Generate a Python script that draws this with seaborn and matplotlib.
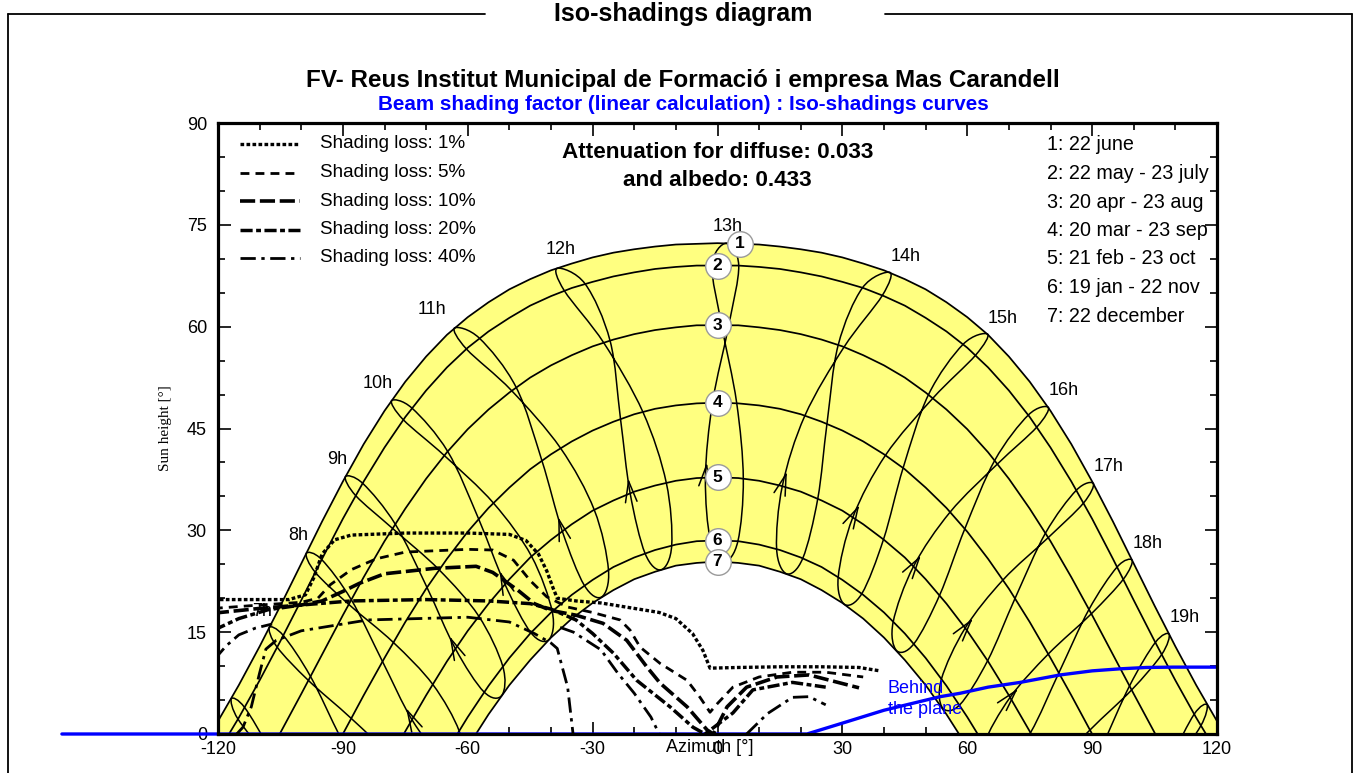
import numpy as np
import pandas as pd
import seaborn as sns
import matplotlib
matplotlib.use("Agg")
import matplotlib.pyplot as plt
from matplotlib.lines import Line2D
from matplotlib.path import Path
from matplotlib.patches import PathPatch

# day curves 1..7: sun height [deg] on an azimuth grid (clipped at the horizon by the axes)
AZ_GRID = list(range(-125, 130, 5))
SUN_H_1 = [-2.9, 1.9, 7.2, 12.9, 18.9, 25.1, 31.3, 37.2, 42.7, 47.6, 51.9, 55.6, 58.8, 61.4, 63.6, 65.5, 67.0,
           68.3, 69.3, 70.2, 70.9, 71.4, 71.8, 72.1, 72.2, 72.3, 72.2, 72.1, 71.8, 71.4, 70.9, 70.2, 69.3, 68.3,
           67.0, 65.5, 63.6, 61.4, 58.8, 55.6, 51.9, 47.6, 42.7, 37.2, 31.3, 25.1, 18.9, 12.9, 7.2, 1.9, -2.9]
SUN_H_2 = [-7.3, -2.7, 2.4, 7.9, 13.7, 19.7, 25.8, 31.7, 37.2, 42.2, 46.7, 50.6, 54.0, 56.9, 59.3, 61.3, 63.1,
           64.5, 65.7, 66.6, 67.4, 68.0, 68.5, 68.8, 69.0, 69.0, 69.0, 68.8, 68.5, 68.0, 67.4, 66.6, 65.7, 64.5,
           63.1, 61.3, 59.3, 56.9, 54.0, 50.6, 46.7, 42.2, 37.2, 31.7, 25.8, 19.7, 13.7, 7.9, 2.4, -2.7, -7.3]
SUN_H_3 = [-18.7, -14.7, -10.1, -5.1, 0.2, 5.9, 11.7, 17.5, 23.1, 28.4, 33.2, 37.6, 41.5, 44.9, 47.8, 50.3,
           52.5, 54.3, 55.8, 57.1, 58.1, 58.9, 59.5, 59.9, 60.2, 60.2, 60.2, 59.9, 59.5, 58.9, 58.1, 57.1, 55.8,
           54.3, 52.5, 50.3, 47.8, 44.9, 41.5, 37.6, 33.2, 28.4, 23.1, 17.5, 11.7, 5.9, 0.2, -5.1, -10.1, -14.7,
           -18.7]
SUN_H_4 = [-33.3, -29.8, -25.8, -21.4, -16.5, -11.2, -5.7, 0.0, 5.7, 11.2, 16.5, 21.4, 25.8, 29.8, 33.3, 36.3,
           39.0, 41.2, 43.1, 44.7, 46.0, 47.1, 47.9, 48.4, 48.7, 48.8, 48.7, 48.4, 47.9, 47.1, 46.0, 44.7, 43.1,
           41.2, 39.0, 36.3, 33.3, 29.8, 25.8, 21.4, 16.5, 11.2, 5.7, 0.0, -5.7, -11.2, -16.5, -21.4, -25.8,
           -29.8, -33.3]
SUN_H_5 = [-47.3, -44.4, -40.9, -37.0, -32.6, -27.8, -22.5, -16.9, -11.1, -5.3, 0.4, 5.7, 10.7, 15.2, 19.2,
           22.8, 26.0, 28.6, 30.9, 32.9, 34.4, 35.7, 36.6, 37.3, 37.7, 37.8, 37.7, 37.3, 36.6, 35.7, 34.4, 32.9,
           30.9, 28.6, 26.0, 22.8, 19.2, 15.2, 10.7, 5.7, 0.4, -5.3, -11.1, -16.9, -22.5, -27.8, -32.6, -37.0,
           -40.9, -44.4, -47.3]
SUN_H_6 = [-59.4, -57.0, -54.1, -50.8, -46.9, -42.4, -37.3, -31.8, -25.9, -19.9, -13.9, -8.0, -2.5, 2.5, 7.1,
           11.2, 14.8, 17.9, 20.5, 22.7, 24.6, 26.0, 27.1, 27.9, 28.4, 28.5, 28.4, 27.9, 27.1, 26.0, 24.6, 22.7,
           20.5, 17.9, 14.8, 11.2, 7.1, 2.5, -2.5, -8.0, -13.9, -19.9, -25.9, -31.8, -37.3, -42.4, -46.9, -50.8,
           -54.1, -57.0, -59.4]
SUN_H_7 = [-63.6, -61.4, -58.8, -55.6, -51.9, -47.6, -42.7, -37.2, -31.3, -25.1, -18.9, -12.9, -7.2, -1.9, 2.9,
           7.2, 10.9, 14.2, 17.0, 19.3, 21.2, 22.8, 23.9, 24.8, 25.2, 25.4, 25.2, 24.8, 23.9, 22.8, 21.2, 19.3,
           17.0, 14.2, 10.9, 7.2, 2.9, -1.9, -7.2, -12.9, -18.9, -25.1, -31.3, -37.2, -42.7, -47.6, -51.9, -55.6,
           -58.8, -61.4, -63.6]
DAY_CURVES = [SUN_H_1, SUN_H_2, SUN_H_3, SUN_H_4, SUN_H_5, SUN_H_6, SUN_H_7]

# hour loops (legal time), points at 22dec 19jan 21feb 20mar 20apr 22may 22jun 23jul 23aug 23sep 23oct 22nov 22dec
HOURS = [6, 7, 8, 9, 10, 11, 12, 13, 14, 15, 16, 17, 18, 19, 20]
HOUR_AZ = [
    [-79.9, -84.6, -93.0, -100.5, -107.5, -113.6, -116.8, -115.2, -108.1, -98.0, -88.1, -80.8, -79.9],
    [-71.0, -75.4, -83.2, -90.5, -97.8, -104.3, -107.7, -105.8, -98.3, -88.0, -78.4, -71.6, -71.0],
    [-61.8, -66.1, -73.4, -80.5, -88.0, -95.1, -98.8, -96.6, -88.6, -77.9, -68.4, -62.1, -61.8],
    [-51.8, -56.1, -63.0, -69.8, -77.4, -85.2, -89.4, -86.9, -78.1, -66.9, -57.4, -51.6, -51.8],
    [-40.5, -44.8, -51.1, -57.4, -64.8, -73.4, -78.3, -75.5, -65.6, -53.8, -44.7, -39.7, -40.5],
    [-27.8, -32.0, -37.3, -42.2, -48.4, -57.2, -63.2, -60.3, -49.5, -37.7, -29.6, -26.2, -27.8],
    [-13.5, -17.4, -21.0, -23.3, -25.8, -31.8, -38.5, -36.8, -27.3, -17.9, -12.3, -11.0, -13.5],
    [1.6, -1.7, -2.9, -1.2, 2.7, 5.1, 2.1, -1.3, 1.0, 4.6, 6.2, 4.9, 1.6],
    [16.6, 14.2, 15.6, 21.0, 30.4, 39.6, 41.4, 34.8, 29.0, 26.3, 24.1, 20.5, 16.6],
    [30.5, 29.0, 32.5, 40.4, 51.8, 62.0, 64.9, 59.0, 50.7, 44.6, 39.9, 34.7, 30.5],
    [43.0, 42.2, 47.1, 55.9, 67.3, 76.7, 79.5, 74.7, 66.6, 59.4, 53.4, 47.2, 43.0],
    [54.0, 53.8, 59.5, 68.6, 79.4, 87.9, 90.3, 86.2, 78.8, 71.5, 64.9, 58.2, 54.0],
    [63.8, 64.0, 70.3, 79.5, 89.8, 97.5, 99.6, 96.0, 89.2, 82.0, 75.2, 68.0, 63.8],
    [72.8, 73.5, 80.2, 89.5, 99.5, 106.7, 108.5, 105.2, 99.0, 92.0, 84.9, 77.2, 72.8],
    [81.8, 82.6, 89.9, 99.5, 109.4, 116.1, 117.6, 114.5, 108.8, 102.1, 94.8, 86.5, 81.8],
]
HOUR_H = [
    [-25.0, -25.5, -20.2, -11.8, -2.5, 3.9, 5.2, 2.2, -3.1, -9.0, -14.7, -20.8, -25.0],
    [-14.1, -14.4, -8.9, -0.6, 8.5, 14.5, 15.7, 12.8, 7.9, 2.3, -3.5, -9.9, -14.1],
    [-3.7, -3.7, 2.1, 10.7, 19.8, 25.7, 26.6, 23.8, 19.1, 13.5, 7.3, 0.5, -3.7],
    [5.7, 6.2, 12.6, 21.6, 30.9, 36.9, 37.9, 35.1, 30.3, 24.2, 17.4, 10.0, 5.7],
    [13.9, 14.9, 22.1, 31.7, 41.6, 48.0, 49.1, 46.3, 41.0, 34.0, 26.2, 18.0, 13.9],
    [20.2, 21.9, 29.9, 40.3, 51.1, 58.3, 59.8, 56.7, 50.6, 42.1, 33.0, 24.2, 20.2],
    [24.2, 26.6, 35.5, 46.4, 57.9, 66.3, 68.6, 65.3, 57.6, 47.4, 37.0, 27.8, 24.2],
    [25.4, 28.5, 37.8, 48.8, 60.2, 69.0, 72.3, 69.0, 60.2, 48.8, 37.6, 28.4, 25.4],
    [23.6, 27.3, 36.6, 46.9, 57.0, 64.6, 68.0, 65.7, 57.3, 45.7, 34.7, 25.9, 23.6],
    [19.1, 23.1, 31.9, 41.1, 49.5, 55.8, 58.9, 57.4, 50.0, 39.2, 28.7, 20.7, 19.1],
    [12.3, 16.5, 24.7, 32.7, 39.8, 45.2, 48.1, 47.0, 40.3, 30.2, 20.5, 13.3, 12.3],
    [3.9, 8.1, 15.6, 22.7, 28.9, 34.0, 36.9, 35.9, 29.6, 20.0, 10.8, 4.3, 3.9],
    [-5.8, -1.5, 5.4, 11.8, 17.7, 22.8, 25.6, 24.6, 18.3, 9.0, 0.2, -5.8, -5.8],
    [-16.3, -12.0, -5.5, 0.6, 6.5, 11.7, 14.7, 13.5, 7.1, -2.3, -11.0, -16.6, -16.3],
    [-27.3, -23.1, -16.7, -10.7, -4.5, 1.2, 4.3, 2.9, -3.9, -13.5, -22.2, -27.7, -27.3],
]

# iso-shading curves (azimuth, height)
LOSS_1_AZ = [-121, -103, -99, -97, -95, -92, -88, -75, -60, -50, -46, -43, -41, -39.5, -38.5, -34, -28, -22,
             -14, -10, -6, -3.5, -1.8, 5, 15, 25, 34, 39]
LOSS_1_H = [19.8, 19.8, 20.5, 23.0, 26.5, 28.6, 29.3, 29.6, 29.6, 29.4, 28.5, 26.5, 24.0, 21.5, 20.0, 19.6,
            19.3, 18.7, 17.9, 17.0, 14.8, 12.3, 9.7, 9.8, 9.9, 9.9, 9.8, 9.3]
LOSS_5_AZ = [-121, -110, -100, -96, -93, -88, -82, -75, -60, -54, -49, -45, -41, -36, -30, -23.4, -21, -18.6,
             -13.8, -7.3, -4.2, -1.8, 0, 3.7, 10, 18, 26, 35]
LOSS_5_H = [18.5, 19.0, 19.4, 20.0, 22.0, 24.2, 25.8, 26.8, 27.2, 27.1, 25.6, 22.6, 20.2, 18.7, 17.9, 16.8,
            15.3, 12.8, 10.4, 7.9, 5.4, 3.2, 4.5, 6.9, 8.4, 9.1, 9.1, 8.4]
LOSS_10_AZ = [-121, -110, -100, -95, -90, -86, -80, -68, -58, -54, -48, -44, -40, -34, -27.5, -21.8, -17,
              -13.8, -7.3, -2.5, -1, 2.3, 7, 14.3, 22, 34]
LOSS_10_H = [17.8, 18.5, 19.0, 19.6, 21.0, 22.2, 23.6, 24.4, 24.7, 23.8, 21.2, 19.2, 18.2, 17.5, 16.3, 13.8,
             9.9, 7.5, 4.0, 0.6, 0, 4.0, 6.9, 8.4, 8.7, 6.8]
LOSS_20_AZ = [-121, -115, -108, -100, -88, -70, -55, -45, -40, -34, -30, -25, -19.4, -11.4, -5.9, -3, 3.7, 8.5,
              18, 26]
LOSS_20_H = [15.3, 17.0, 18.3, 19.0, 19.6, 19.8, 19.6, 19.2, 18.4, 16.8, 14.8, 11.9, 7.9, 4.0, 1.0, 0, 3.1, 6.5,
             7.6, 6.9]
LOSS_40_AZ = [[-115.5, -114, -112, -110, -108.5, -106, -100, -84, -60, -50, -44, -40, -38.5, -36, -34.7],
              [-121, -118, -115, -111, -107],
              [-37.8, -34.6, -28, -24, -20, -16, -14],
              [7, 12, 18, 22, 26]]
LOSS_40_H = [[0, 1, 4, 9, 12.5, 13.8, 15.2, 16.8, 17.2, 16.5, 14.8, 13.4, 12.6, 6.9, 0],
             [10.9, 13, 14.6, 15.6, 16.2],
             [15.7, 15.0, 12.4, 9.0, 6.0, 2.5, 0],
             [0, 3, 5.4, 5.5, 4.3]]

BEHIND_AZ = [-157.5, 21.5, 30, 40, 53.5, 58.3, 65, 72.7, 82.3, 90, 96.7, 103, 109.5, 120]
BEHIND_H = [0, 0, 1.6, 3.5, 5.5, 6.0, 6.9, 7.6, 8.7, 9.3, 9.6, 9.8, 9.85, 9.85]

LOSS_LABELS = ["Shading loss: 1%", "Shading loss: 5%", "Shading loss: 10%",
               "Shading loss: 20%", "Shading loss: 40%"]
DATE_LABELS = ["1: 22 june", "2: 22 may - 23 july", "3: 20 apr - 23 aug",
               "4: 20 mar - 23 sep", "5: 21 feb - 23 oct", "6: 19 jan - 22 nov",
               "7: 22 december"]
HOUR_LABELS = ["8h", "9h", "10h", "11h", "12h", "13h", "14h", "15h", "16h", "17h", "18h", "19h"]
HOUR_LABEL_POS = [(-100.8, 29.3), (-91.4, 40.4), (-81.6, 51.6), (-68.6, 62.5), (-37.6, 71.3),
                  (2.5, 74.7), (45.3, 70.3), (68.6, 61.2), (83.2, 50.6), (94.0, 39.4),
                  (103.4, 28.1), (112.3, 17.1)]

STYLES = {
    "1%": dict(lw=2.4, ls=(0, (1.1, 0.7))),
    "5%": dict(lw=2.0, ls=(0, (3.2, 2.2))),
    "10%": dict(lw=2.6, ls=(0, (4.2, 1.3))),
    "20%": dict(lw=2.5, ls=(0, (3.5, 1.0, 1.4, 1.0))),
    "40%": dict(lw=2.0, ls=(0, (5.5, 2.0, 1.2, 2.0))),
}
YELLOW = "#ffff80"
BLUE = "#0000ff"


def smooth_loop(xs, ys):
    # closed Catmull-Rom curve through the loop points, as cubic Bezier segments
    p = np.column_stack([xs, ys])[:-1]
    n = len(p)
    verts, codes = [p[0]], [Path.MOVETO]
    for i in range(n):
        p0, p1, p2, p3 = p[i - 1], p[i], p[(i + 1) % n], p[(i + 2) % n]
        verts += [p1 + (p2 - p0) / 6, p2 - (p3 - p1) / 6, p2]
        codes += [Path.CURVE4] * 3
    return Path(verts, codes)


sns.set_theme(style="white", rc={"axes.edgecolor": "black", "text.color": "black",
                                 "xtick.color": "black", "ytick.color": "black",
                                 "axes.labelcolor": "black"})
plt.rcParams["font.family"] = ["Liberation Sans", "DejaVu Sans"]
plt.rcParams["axes.unicode_minus"] = False

W, HP = 1360, 773
fig = plt.figure(figsize=(13.6, 7.73), dpi=100)
fig.patch.set_facecolor("white")
ax = fig.add_axes([218 / W, 1 - 734 / HP, (1217 - 218) / W, (734 - 123) / HP])
ax.set_xlim(-120, 120)
ax.set_ylim(0, 90)

# page frame and titles
for xs, ys in [([8, 485], [14, 14]), ([885, 1352], [14, 14]), ([8, 8], [14, 780]), ([1352, 1352], [14, 780])]:
    fig.add_artist(Line2D([x / W for x in xs], [1 - y / HP for y in ys], color="black", lw=1.3))
fig.text(683 / W, 1 - 14 / HP, "Iso-shadings diagram", ha="center", va="center", fontsize=18, fontweight="bold")
fig.text(683 / W, 1 - 80 / HP, "FV- Reus Institut Municipal de Formació i empresa Mas Carandell",
         ha="center", va="center", fontsize=17.5, fontweight="bold")
fig.text(683 / W, 1 - 105 / HP, "Beam shading factor (linear calculation) : Iso-shadings curves",
         ha="center", va="center", fontsize=14.9, fontweight="bold", color=BLUE)

# yellow band between 22 june and 22 december
ax.fill_between(AZ_GRID, SUN_H_7, SUN_H_1, color=YELLOW, lw=0, zorder=1)
days = pd.DataFrame({"az": AZ_GRID * len(DAY_CURVES), "h": sum(DAY_CURVES, []),
                     "curve": np.repeat(np.arange(1, len(DAY_CURVES) + 1), len(AZ_GRID))})
sns.lineplot(data=days, x="az", y="h", units="curve", estimator=None, color="black",
             lw=1.25, ax=ax, legend=False, zorder=3)

# hour loops with direction arrows
for a_row, h_row in zip(HOUR_AZ, HOUR_H):
    ax.add_patch(PathPatch(smooth_loop(a_row, h_row), fill=False, ec="black", lw=1.1, zorder=3))
    feb = np.array([a_row[2], h_row[2]])
    mar = np.array([a_row[3], h_row[3]])
    tip = feb + 0.2 * (mar - feb)
    if 0.5 < tip[1] and -119 < tip[0] < 119:
        ax.annotate("", xy=tip, xytext=tip - 0.06 * (mar - feb),
                    arrowprops=dict(arrowstyle="->,head_length=0.8,head_width=0.22",
                                    lw=1.1, color="black", mutation_scale=19, shrinkA=0, shrinkB=0),
                    zorder=4)

# hour labels (7h sits under the shading curves)
for lab, (xa, ya) in zip(HOUR_LABELS, HOUR_LABEL_POS):
    ax.text(xa, ya, lab, ha="center", va="center", fontsize=13, zorder=6)
ax.text(-109.4, 18.1, "7h", ha="center", va="center", fontsize=13, zorder=4)

# iso-shading curves
for key, a, h in [("1%", LOSS_1_AZ, LOSS_1_H), ("5%", LOSS_5_AZ, LOSS_5_H),
                  ("10%", LOSS_10_AZ, LOSS_10_H), ("20%", LOSS_20_AZ, LOSS_20_H)]:
    sns.lineplot(x=a, y=h, sort=False, estimator=None, color="black", ax=ax, zorder=5, **STYLES[key])
loss40 = pd.DataFrame({"az": sum(LOSS_40_AZ, []), "h": sum(LOSS_40_H, []),
                       "part": np.repeat(np.arange(len(LOSS_40_AZ)), [len(p) for p in LOSS_40_AZ])})
sns.lineplot(data=loss40, x="az", y="h", units="part", estimator=None, sort=False, color="black",
             ax=ax, legend=False, zorder=5, **STYLES["40%"])

# behind the plane
ax.plot(BEHIND_AZ, BEHIND_H, color=BLUE, lw=2.4, zorder=4.5, clip_on=False)
ax.text(40.9, 5.1, "Behind\nthe plane", color=BLUE, fontsize=13, ha="left", va="center",
        linespacing=1.3, zorder=6)

# date markers on the meridian
for k, curve in enumerate(DAY_CURVES):
    idx = AZ_GRID.index(5) if k == 0 else AZ_GRID.index(0)
    xa = AZ_GRID[idx] + (0.4 if k == 0 else 0)
    ax.scatter([xa], [curve[idx]], s=340, color="white", edgecolor="#9a9a9a", lw=1.0, zorder=7)
    ax.text(xa, curve[idx], str(k + 1), ha="center", va="center", fontsize=12.5,
            fontweight="bold", zorder=8)

# legends
for i, (lab, key) in enumerate(zip(LOSS_LABELS, STYLES)):
    yy = 1 - (144 + 28.5 * i - 123) / 611
    ax.add_line(Line2D([0.022, 0.082], [yy, yy], transform=ax.transAxes, color="black", **STYLES[key]))
    ax.text(0.102, yy, lab, transform=ax.transAxes, ha="left", va="center", fontsize=13.6)
for i, lab in enumerate(DATE_LABELS):
    yy = 1 - (145 + 28.5 * i - 123) / 611
    ax.text(0.8298, yy, lab, transform=ax.transAxes, ha="left", va="center", fontsize=14.2)
ax.text(0.5, 1 - (152 - 123) / 611, "Attenuation for diffuse: 0.033", transform=ax.transAxes,
        ha="center", va="center", fontsize=16.2, fontweight="bold")
ax.text(0.5, 1 - (181 - 123) / 611, "and albedo: 0.433", transform=ax.transAxes,
        ha="center", va="center", fontsize=16.2, fontweight="bold")

# axes styling
ax.set_xticks(range(-120, 121, 30))
ax.set_xticks(range(-120, 121, 10), minor=True)
ax.set_yticks(range(0, 91, 15))
ax.set_yticks(range(0, 91, 5), minor=True)
for s in ax.spines.values():
    s.set_linewidth(2.3)
    s.set_color("black")
    s.set_zorder(9)
ax.tick_params(which="both", direction="in", top=True, right=True, bottom=True, left=True,
               width=1.2, labelsize=13)
ax.tick_params(which="major", length=9)
ax.tick_params(which="minor", length=5)
ax.tick_params(axis="x", pad=5)
ax.tick_params(axis="y", pad=8)
ax.set_xlabel("")
ax.set_ylabel("Sun height [°]", family="Liberation Serif", fontsize=11)
ax.yaxis.set_label_coords(-0.046, 0.5)
ax.text(0.4925, -0.0213, "Azimuth [°]", transform=ax.transAxes, ha="center", va="center", fontsize=13)

fig.savefig("out.png", dpi=100)
